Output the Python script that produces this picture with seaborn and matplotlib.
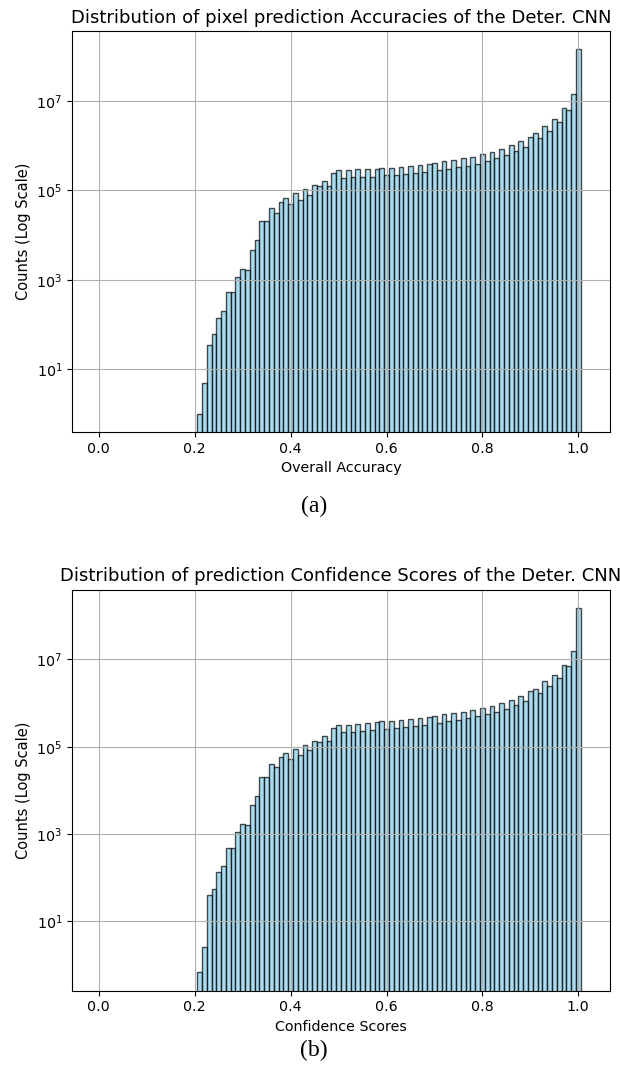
import numpy as np
import pandas as pd
import matplotlib
matplotlib.use("Agg")
import matplotlib.pyplot as plt
from matplotlib.ticker import NullLocator
import seaborn as sns

# bin centres 0.21 ... 1.00 (bins of width 0.01 running from 0.00 to 1.00)
bin_centers = np.round(np.arange(0.21, 1.001, 0.01), 2)
bin_edges = np.round(np.arange(-0.005, 1.0151, 0.01), 3).tolist()

# pixel counts per bin
accuracy_counts = [
    1, 5, 34, 60, 138, 204, 525, 525, 1175, 1700,
    1660, 4570, 7590, 20400, 20400, 39800, 31600, 56200, 67600, 50100,
    87100, 61700, 107000, 79400, 135000, 126000, 166000, 126000, 245000, 288000,
    191000, 288000, 200000, 295000, 200000, 295000, 204000, 309000, 316000, 219000,
    324000, 224000, 339000, 234000, 347000, 245000, 372000, 257000, 398000, 407000,
    282000, 447000, 309000, 490000, 331000, 525000, 355000, 562000, 380000, 646000,
    457000, 741000, 537000, 851000, 617000, 1023000, 759000, 1259000, 955000, 1585000,
    1905000, 1514000, 2754000, 2188000, 3981000, 3467000, 6918000, 6457000, 14130000, 144500000,
]

confidence_counts = [
    0.68, 2.6, 40, 55, 138, 191, 479, 479, 1122, 1698,
    1660, 4571, 7586, 20417, 20417, 40738, 33884, 58884, 70795, 53703,
    89125, 66069, 112202, 83176, 138038, 131826, 173780, 138038, 263027, 316228,
    213796, 323594, 223872, 338844, 234423, 346737, 239883, 363078, 380189, 257040,
    398107, 269153, 407380, 281838, 436516, 295121, 457088, 316228, 489779, 512861,
    354813, 549541, 380189, 588844, 416869, 630957, 446684, 691831, 501187, 794328,
    562341, 870964, 630957, 1023293, 741310, 1202264, 891251, 1479108, 1096478, 1862087,
    2137962, 1698244, 3162278, 2454709, 4466836, 3715352, 7585776, 7079458, 15848932, 151356125,
]

titles = [
    "Distribution of pixel prediction Accuracies of the Deter. CNN",
    "Distribution of prediction Confidence Scores of the Deter. CNN",
]
xlabels = ["Overall Accuracy", "Confidence Scores"]
captions = ["(a)", "(b)"]
ytick_values = [1e1, 1e3, 1e5, 1e7]

fig = plt.figure(figsize=(6.2, 10.73), dpi=100)

panels = [
    (accuracy_counts, [0.1161, 0.5974, 0.8677, 0.3737], 0.5284),
    (confidence_counts, [0.1161, 0.0767, 0.8677, 0.3737], 0.0214),
]

for i, (counts, rect, cap_y) in enumerate(panels):
    ax = fig.add_axes(rect)
    df = pd.DataFrame({"value": bin_centers, "count": counts})
    sns.histplot(
        data=df,
        x="value",
        weights="count",
        bins=bin_edges,
        color="skyblue",
        edgecolor=(0, 0, 0, 0.7),
        linewidth=1.0,
        alpha=0.7,
        ax=ax,
    )
    ax.set_yscale("log")
    ax.set_yticks(ytick_values)
    ax.yaxis.set_minor_locator(NullLocator())
    ax.grid(True)
    ax.set_title(titles[i], fontsize=13)
    ax.set_xlabel(xlabels[i], fontsize=10.3)
    ax.set_ylabel("Counts (Log Scale)", fontsize=10.5)
    ax.tick_params(labelsize=10.3)
    fig.text(0.506, cap_y, captions[i], ha="center", va="center",
             fontsize=17, family="Liberation Serif")

fig.savefig("out.png", dpi=100)
